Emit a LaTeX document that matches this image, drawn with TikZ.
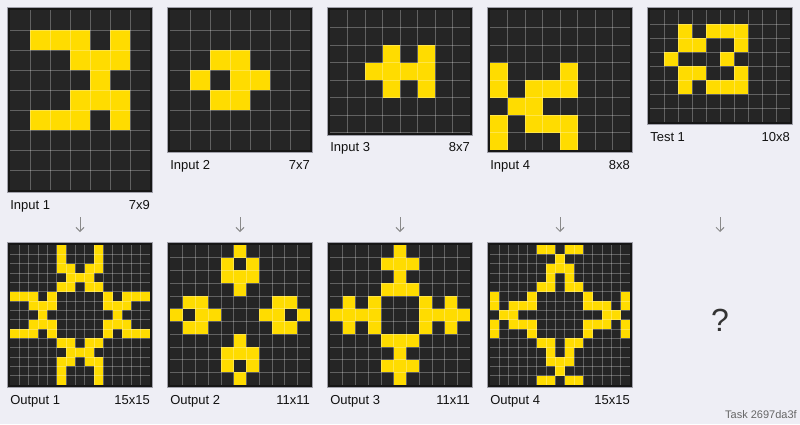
\documentclass[tikz,border=0pt]{standalone}
\usepackage{fontspec}
\setmainfont{Liberation Sans}
\usepackage{tikz}
\usetikzlibrary{arrows.meta,positioning}
\definecolor{arc@bg}{HTML}{EEEEF5}
\definecolor{arc@cell}{HTML}{252525}
\definecolor{arc@yellow}{HTML}{FFDC00}
\definecolor{arc@frame}{HTML}{161616}
\definecolor{arc@shade}{HTML}{A0A0AA}
\definecolor{arc@gray}{HTML}{8A8A8A}
\definecolor{arc@text}{HTML}{111111}
\definecolor{arc@quest}{HTML}{333333}
\definecolor{arc@task}{HTML}{666666}
\tikzset{
  arc/.style={
    x=1pt, y=-1pt,
    line width=0.5pt
  },
  cellbg/.style={fill=arc@cell},        % empty cell
  cellon/.style={fill=arc@yellow},      % coloured cell
  gridline/.style={draw=white, draw opacity=0.28, line width=0.6pt},
  panelframe/.style={draw=arc@frame, line width=2pt},
  panelshade/.style={draw=arc@shade, line width=0.7pt},
  plabel/.style={anchor=base west, inner sep=0pt, text=arc@text,
    font=\fontsize{13}{15}\selectfont},
  pdim/.style={anchor=base east, inner sep=0pt, text=arc@text,
    font=\fontsize{13}{15}\selectfont},
  downarr/.style={-{Straight Barb[length=4pt,width=8pt]}, draw=arc@gray, line width=1pt},
  qmark/.style={text=arc@quest, font=\fontsize{32}{36}\selectfont},
  tasklabel/.style={anchor=base east, inner sep=0pt, text=arc@task,
    font=\fontsize{11}{13}\selectfont}
}
% #1,#2 top left, #3 cols, #4 rows, #5 cell size, #6 row/{cols} list
\newcommand{\arcpanel}[6]{%
  \begin{scope}[shift={(#1,#2)}]
    \draw[panelshade] (-2.4,-2.4) rectangle ({#3*(#5)+2.4},{#4*(#5)+2.4});
    \fill[cellbg] (0,0) rectangle ({#3*(#5)},{#4*(#5)});
    \foreach \r/\cs in {#6} {
      \foreach \c in \cs {
        \fill[cellon] ({\c*(#5)},{\r*(#5)}) rectangle ++(#5,#5);
      }
    }
    \foreach \i in {1,...,#3} {
      \draw[gridline] ({\i*(#5)},0) -- ++(0,{#4*(#5)});
    }
    \foreach \j in {1,...,#4} {
      \draw[gridline] (0,{\j*(#5)}) -- ++({#3*(#5)},0);
    }
    \draw[panelframe] (-1,-1) rectangle ({#3*(#5)+1},{#4*(#5)+1});
  \end{scope}%
}

\begin{document}
\begin{tikzpicture}[arc]
\fill[arc@bg] (0,0) rectangle (800,424);
\useasboundingbox (0,0) rectangle (800,424);

% Inputs
\arcpanel{10}{10}{7}{9}{20}{1/{1,2,3,5},2/{3,4,5},3/{4},4/{3,4,5},5/{1,2,3,5}}
\arcpanel{170}{10}{7}{7}{20}{2/{2,3},3/{1,3,4},4/{2,3}}
\arcpanel{330}{10}{8}{7}{17.5}{2/{3,5},3/{2,3,4,5},4/{3,5}}
\arcpanel{490}{10}{8}{8}{17.5}{3/{0,4},4/{0,2,3,4},5/{1,2},6/{0,2,3,4},7/{0,4}}
\arcpanel{650}{10}{10}{8}{14}{1/{2,4,5,6},2/{2,3,6},3/{1,5},4/{2,3,6},5/{2,4,5,6}}

\node[plabel] (in1) at (10,209) {Input 1};
\node[pdim]   (in1d) at (150,209) {7x9};
\node[plabel] (in2) at (170,169) {Input 2};
\node[pdim]   (in2d) at (310,169) {7x7};
\node[plabel] (in3) at (330,151.5) {Input 3};
\node[pdim]   (in3d) at (470,151.5) {8x7};
\node[plabel] (in4) at (490,169) {Input 4};
\node[pdim]   (in4d) at (630,169) {8x8};
\node[plabel] (te1) at (650,141) {Test 1};
\node[pdim]   (te1d) at (790,141) {10x8};

% Arrows
\foreach \k in {0,...,4} {
  \coordinate (as\k) at ({80+160*\k},217);
  \coordinate (ae\k) at ({80+160*\k},232);
  \draw[downarr] (as\k) -- (ae\k);
}

% Outputs
\arcpanel{10}{245}{15}{15}{140/15}{0/{5,9},1/{5,9},2/{5,6,8,9},3/{6,7,8},4/{5,6,8,9},5/{0,1,2,4,10,12,13,14},6/{2,3,4,10,11,12},7/{3,11},8/{2,3,4,10,11,12},9/{0,1,2,4,10,12,13,14},10/{5,6,8,9},11/{6,7,8},12/{5,6,8,9},13/{5,9},14/{5,9}}
\arcpanel{170}{245}{11}{11}{140/11}{0/{5},1/{4,6},2/{4,5,6},3/{5},4/{1,2,8,9},5/{0,2,3,7,8,10},6/{1,2,8,9},7/{5},8/{4,5,6},9/{4,6},10/{5}}
\arcpanel{330}{245}{11}{11}{140/11}{0/{5},1/{4,5,6},2/{5},3/{4,5,6},4/{1,3,7,9},5/{0,1,2,3,7,8,9,10},6/{1,3,7,9},7/{4,5,6},8/{5},9/{4,5,6},10/{5}}
\arcpanel{490}{245}{15}{15}{140/15}{0/{5,6,8,9},1/{7},2/{6,7,8},3/{6,8},4/{5,6,8,9},5/{0,4,10,14},6/{0,2,3,4,10,11,12,14},7/{1,2,12,13},8/{0,2,3,4,10,11,12,14},9/{0,4,10,14},10/{5,6,8,9},11/{6,8},12/{6,7,8},13/{7},14/{5,6,8,9}}

\node[plabel] (out1) at (10,404) {Output 1};
\node[pdim]   (out1d) at (150,404) {15x15};
\node[plabel] (out2) at (170,404) {Output 2};
\node[pdim]   (out2d) at (310,404) {11x11};
\node[plabel] (out3) at (330,404) {Output 3};
\node[pdim]   (out3d) at (470,404) {11x11};
\node[plabel] (out4) at (490,404) {Output 4};
\node[pdim]   (out4d) at (630,404) {15x15};

% Unknown test output
\node[qmark] (quest) at (720,320) {?};
\node[tasklabel] (task) at (797,418) {Task 2697da3f};
\end{tikzpicture}
\end{document}
